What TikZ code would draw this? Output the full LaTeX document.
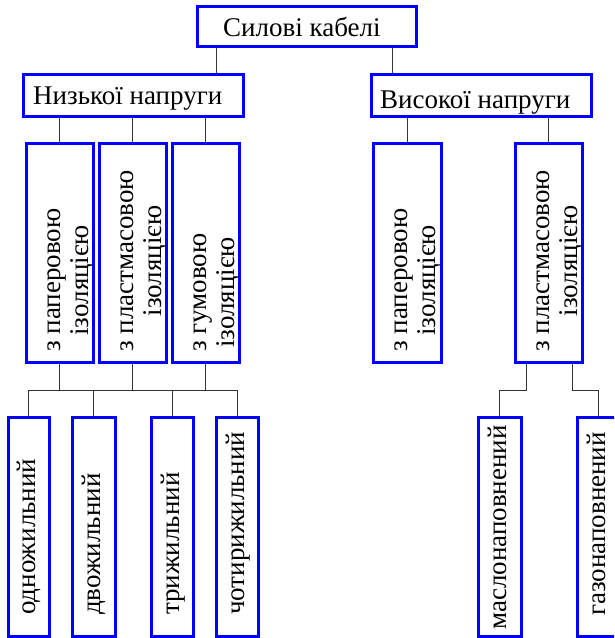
\documentclass[tikz,border=0pt]{standalone}
\usepackage{fontspec}
\setmainfont{Liberation Serif}
\begin{document}
\begin{tikzpicture}[x=1pt,y=-1pt,
  box/.style={draw=blue, line width=3pt, fill=white, inner sep=0pt, rectangle},
  wire/.style={draw=black!80, line width=1pt},
  lbl/.style={inner sep=0pt, font=\fontsize{27}{28}\selectfont},
  vlbl/.style={lbl, rotate=90, align=center},
]
\useasboundingbox (0,0) rectangle (614,638);
\clip (0,0) rectangle (614,638);

% top level
\node[box, minimum width=219pt, minimum height=40pt] (top) at (306.5,26.7) {};
% voltage classes
\node[box, minimum width=220pt, minimum height=42pt] (low) at (133,95) {};
\node[box, minimum width=220pt, minimum height=42pt] (high) at (481,95) {};

% insulation types
\foreach \n/\x/\w in {m1/59.5/67, m2/132.5/67, m3/205.5/67, m4/407/68, m5/548.5/67}
  \node[box, minimum width=\w pt, minimum height=219.5pt] (\n) at (\x,252.75) {};

% number of cores / filling
\foreach \n/\x/\w in {a/28.5/41, b/93.5/43, c/172/42, d/237/42, e/499.5/43, f/598.5/43}
  \node[box, minimum width=\w pt, minimum height=219.5pt] (\n) at (\x,526.75) {};

% texts
\node[lbl, anchor=base west] (tTop) at (223,36) {Силові кабелі};
\node[lbl, anchor=base west] (tLow) at (33,104) {Низької напруги};
\node[lbl, anchor=base west] (tHigh) at (380,108) {Високої напруги};

% two-line labels: the base anchor sits on the last line
\node[vlbl, anchor=base west] (t1) at (88,352) {з паперовою\\ізоляцією};
\node[vlbl, anchor=base west] (t2) at (161,352) {з пластмасовою\\ізоляцією};
\node[vlbl, anchor=base west] (t3) at (234,352) {з гумовою\\ізоляцією};
\node[vlbl, anchor=base west] (t4) at (435,352) {з паперовою\\ізоляцією};
\node[vlbl, anchor=base west] (t5) at (577,352) {з пластмасовою\\ізоляцією};

\node[vlbl, anchor=base west] (ta) at (35.5,615) {одножильний};
\node[vlbl, anchor=base west] (tb) at (100.5,615) {двожильний};
\node[vlbl, anchor=base west] (tc) at (179,615) {трижильний};
\node[vlbl, anchor=base west] (td) at (244,615) {чотирижильний};
\node[vlbl, anchor=base] (te) at (506.5,527.5) {маслонаповнений};
\node[vlbl, anchor=base] (tf) at (605.5,524) {газонаповнений};

% connectors
\coordinate (kL) at (216,0);
\coordinate (kH) at (392,0);
\coordinate (bus) at (0,390);
\coordinate (p1) at (526,0);
\coordinate (p2) at (572,0);

\draw[wire] (top.south -| kL) -- (low.north -| kL);
\draw[wire] (top.south -| kH) -- (high.north -| kH);

\foreach \m in {m1,m2,m3}
  \draw[wire] (low.south -| \m.north) -- (\m.north);
\foreach \m in {m4,m5}
  \draw[wire] (high.south -| \m.north) -- (\m.north);

\foreach \m in {m1,m2,m3}
  \draw[wire] (\m.south) -- (\m.south |- bus);
\draw[wire] (a.north |- bus) -- (d.north |- bus);
\foreach \k in {a,b,c,d}
  \draw[wire] (\k.north |- bus) -- (\k.north);

\draw[wire] (m5.south -| p1) |- (e.north |- bus) -- (e.north);
\draw[wire] (m5.south -| p2) |- (f.north |- bus) -- (f.north);
\end{tikzpicture}
\end{document}
